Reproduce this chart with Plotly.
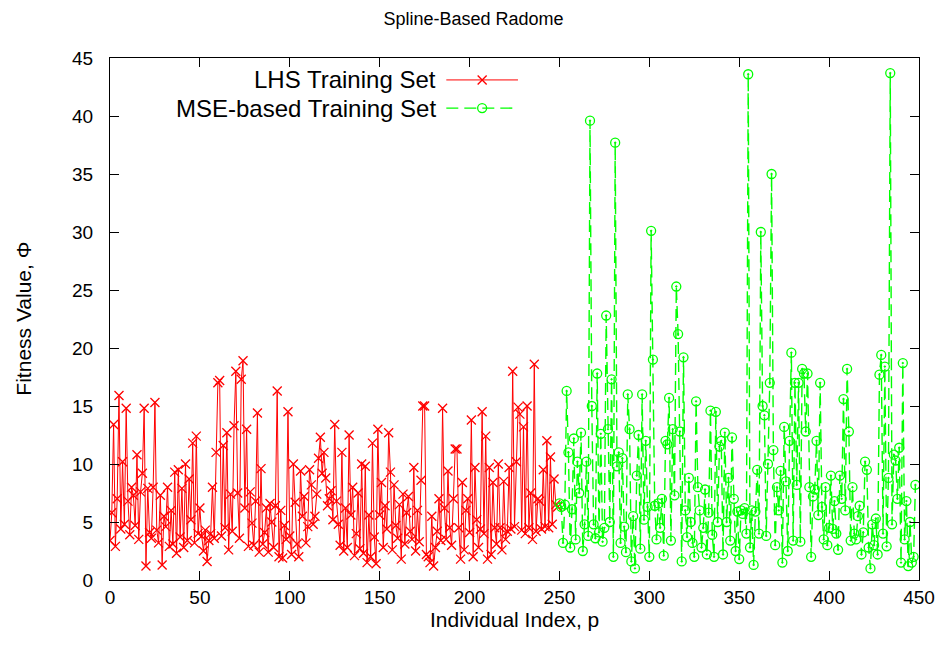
import plotly.graph_objects as go

# LHS training set: indices 0..249
lhs_values = [
    3.4, 5.8, 13.4, 2.9, 7.0, 15.9, 4.4, 10.2, 4.8, 14.8,
    6.8, 3.9, 8.0, 7.3, 4.7, 10.8, 3.5, 7.6, 9.2, 14.8,
    1.2, 7.9, 4.1, 3.6, 8.0, 15.3, 4.3, 3.2, 7.3, 1.3,
    5.5, 4.6, 8.0, 2.9, 6.0, 3.1, 9.3, 2.3, 9.5, 3.7,
    7.9, 2.8, 10.0, 3.4, 8.7, 5.2, 11.8, 3.2, 12.4, 4.0,
    6.2, 3.8, 2.5, 4.3, 1.6, 3.4, 4.0, 8.0, 3.6, 11.0,
    17.0, 17.2, 3.8, 11.6, 4.5, 12.7, 2.6, 7.4, 4.2, 13.3,
    18.0, 7.5, 3.6, 17.3, 18.9, 6.2, 13.0, 2.9, 7.6, 4.9,
    3.0, 6.8, 14.4, 2.4, 9.6, 3.1, 4.1, 6.2, 2.4, 6.6,
    5.0, 2.8, 6.4, 16.3, 2.0, 6.0, 1.9, 4.7, 3.5, 14.5,
    3.8, 2.2, 10.0, 6.7, 3.1, 2.0, 9.4, 5.5, 7.2, 3.2,
    4.6, 9.5, 8.2, 4.8, 5.5, 7.4, 10.5, 12.3, 9.2, 11.0,
    8.8, 6.4, 7.0, 7.7, 5.2, 13.4, 6.8, 4.8, 3.0, 11.0,
    2.5, 6.2, 2.8, 12.5, 5.6, 8.0, 2.1, 4.0, 7.5, 2.7,
    10.0, 2.3, 9.8, 1.5, 5.6, 2.0, 11.8, 3.7, 1.4, 13.0,
    5.6, 8.4, 2.8, 6.4, 4.4, 12.7, 9.3, 2.6, 8.2, 4.7,
    3.6, 6.5, 1.8, 7.4, 3.1, 5.8, 7.2, 4.2, 3.5, 9.7,
    2.5, 6.0, 3.3, 8.6, 15.0, 15.0, 2.2, 2.0, 1.5, 5.5,
    1.2, 2.8, 4.2, 7.0, 3.4, 14.8, 6.2, 3.5, 9.4, 4.5,
    3.0, 7.0, 11.3, 11.3, 4.5, 1.8, 8.4, 2.6, 6.0, 7.0,
    4.1, 13.8, 2.0, 9.7, 5.2, 2.8, 4.4, 14.5, 4.0, 12.4,
    1.8, 9.7, 2.2, 8.4, 4.5, 3.1, 10.0, 4.5, 2.6, 8.5,
    3.5, 4.2, 9.7, 4.4, 18.0, 4.6, 10.2, 14.9, 14.3, 4.3,
    13.2, 4.0, 15.0, 4.5, 7.5, 3.5, 18.6, 4.2, 7.0, 6.8,
    4.4, 9.5, 4.6, 12.0, 4.5, 10.6, 4.8, 8.7, 6.5, 6.3,
]

# MSE-based training set: indices 250..448
mse_values = [
    6.6, 6.3, 3.2, 6.5, 16.3, 11.0, 2.8, 6.1, 12.2, 3.5,
    10.2, 7.5, 12.7, 2.5, 4.8, 10.2, 3.8, 39.6, 15.0, 4.8,
    3.6, 17.8, 4.1, 12.6, 3.3, 4.5, 22.8, 13.0, 5.0, 17.3,
    2.0, 37.7, 9.8, 11.0, 3.2, 10.5, 4.6, 2.4, 16.0, 13.0,
    1.6, 5.5, 1.0, 9.0, 12.5, 2.7, 16.0, 5.2, 12.0, 6.3,
    2.0, 30.1, 19.0, 6.4, 3.5, 6.6, 4.5, 7.0, 2.1, 12.0,
    11.7, 15.7, 3.4, 13.0, 7.3, 25.3, 21.2, 12.8, 1.6, 19.2,
    6.0, 3.7, 8.8, 5.0, 3.2, 2.0, 15.4, 8.0, 6.0, 2.8,
    4.5, 7.8, 2.2, 5.8, 14.6, 3.9, 2.0, 14.5, 5.0, 11.5,
    12.0, 2.2, 12.7, 5.0, 8.8, 3.4, 12.3, 7.0, 2.5, 5.9,
    1.8, 6.0, 5.7, 6.2, 4.0, 43.6, 2.8, 6.0, 1.3, 5.9,
    9.5, 4.0, 30.0, 15.0, 14.2, 3.8, 10.0, 17.0, 35.0, 11.2,
    3.0, 8.0, 6.0, 9.4, 1.5, 13.2, 8.5, 2.5, 12.0, 19.6,
    3.4, 17.0, 8.2, 17.0, 3.3, 18.2, 17.8, 12.8, 17.8, 8.0,
    2.0, 7.2, 7.8, 12.0, 5.6, 17.0, 6.3, 3.5, 8.0, 3.0,
    4.5, 9.0, 4.4, 6.8, 4.0, 2.6, 9.0, 7.0, 15.6, 6.0,
    18.2, 12.8, 3.4, 8.0, 4.0, 3.5, 5.5, 6.4, 2.2, 4.1,
    10.2, 9.5, 2.8, 1.0, 4.8, 3.0, 5.3, 2.2, 17.7, 19.4,
    4.0, 18.4, 2.9, 8.8, 43.7, 4.8, 10.8, 10.3, 7.0, 11.4,
    1.5, 18.7, 3.5, 6.8, 1.2, 5.0, 1.5, 2.0, 8.2,
]

lhs_x = list(range(len(lhs_values)))
mse_x = list(range(len(lhs_values), len(lhs_values) + len(mse_values)))

x_ticks = [0, 50, 100, 150, 200, 250, 300, 350, 400, 450]
y_ticks = [0, 5, 10, 15, 20, 25, 30, 35, 40, 45]

series_names = ["LHS Training Set", "MSE-based Training Set"]
RED = "#ff0000"
GREEN = "#00ff00"
FONT = "Liberation Sans, Arial, sans-serif"

fig = go.Figure()
fig.add_trace(go.Scatter(
    x=lhs_x, y=lhs_values, mode="lines+markers", name=series_names[0],
    line=dict(color=RED, width=1),
    marker=dict(symbol="x-thin-open", size=9, line=dict(color=RED, width=1.3)),
    showlegend=False,
))
fig.add_trace(go.Scatter(
    x=mse_x, y=mse_values, mode="lines+markers", name=series_names[1],
    line=dict(color=GREEN, width=1.4, dash="12px,6px"),
    marker=dict(symbol="circle-open-dot", size=9, color=GREEN, line=dict(color=GREEN, width=1.3)),
    showlegend=False,
))

# Manual gnuplot-style key: text on the left, sample on the right
rows = [0.958, 0.904]
x_text = 0.406
x0, x1, xc = 0.4157, 0.5043, 0.46
for i, (name, col) in enumerate(zip(series_names, [RED, GREEN])):
    fig.add_annotation(x=x_text, y=rows[i], xref="paper", yref="paper", text=name,
                       showarrow=False, xanchor="right", yanchor="middle",
                       font=dict(family=FONT, size=24, color="black"))
    fig.add_shape(type="line", xref="paper", yref="paper", x0=x0, x1=x1, y0=rows[i], y1=rows[i],
                  line=dict(color=col, width=1.4 if i else 1, dash="12px,6px" if i else "solid"))
# x marker
for dy in (-1, 1):
    fig.add_shape(type="line", xref="paper", yref="paper", xsizemode="pixel", ysizemode="pixel",
                  xanchor=xc, yanchor=rows[0], x0=-4.5, x1=4.5, y0=-4.5 * dy, y1=4.5 * dy,
                  line=dict(color=RED, width=1.3))
fig.add_shape(type="circle", xref="paper", yref="paper", xsizemode="pixel", ysizemode="pixel",
              xanchor=xc, yanchor=rows[1], x0=-4.5, x1=4.5, y0=-4.5, y1=4.5,
              line=dict(color=GREEN, width=1.3))

# Axis titles placed as annotations (gnuplot-like positions)
fig.add_annotation(x=0.5, y=-0.076, xref="paper", yref="paper", text="Individual Index, p",
                   showarrow=False, xanchor="center", yanchor="middle",
                   font=dict(family=FONT, size=21, color="black"))
fig.add_annotation(x=-0.108, y=0.5, xref="paper", yref="paper", text="Fitness Value, Φ",
                   showarrow=False, xanchor="center", yanchor="middle", textangle=-90,
                   font=dict(family=FONT, size=21, color="black"))

axis_common = dict(showline=True, linecolor="black", linewidth=1, mirror="ticks",
                   ticks="inside", ticklen=9, tickwidth=1, tickcolor="black",
                   showgrid=False, zeroline=False,
                   tickfont=dict(family=FONT, size=19, color="black"))

fig.update_layout(
    width=947, height=657,
    margin=dict(l=110, r=24, t=58, b=77),
    paper_bgcolor="white", plot_bgcolor="white",
    title=dict(text="Spline-Based Radome", x=0.5, xanchor="center", y=0.971, yanchor="middle",
               font=dict(family=FONT, size=18, color="black")),
    xaxis=dict(range=[0, 450], tickvals=x_ticks, ticklabelstandoff=0, **axis_common),
    yaxis=dict(range=[0, 45], tickvals=y_ticks, ticklabelstandoff=12, **axis_common),
)

fig.write_html("out.html")
